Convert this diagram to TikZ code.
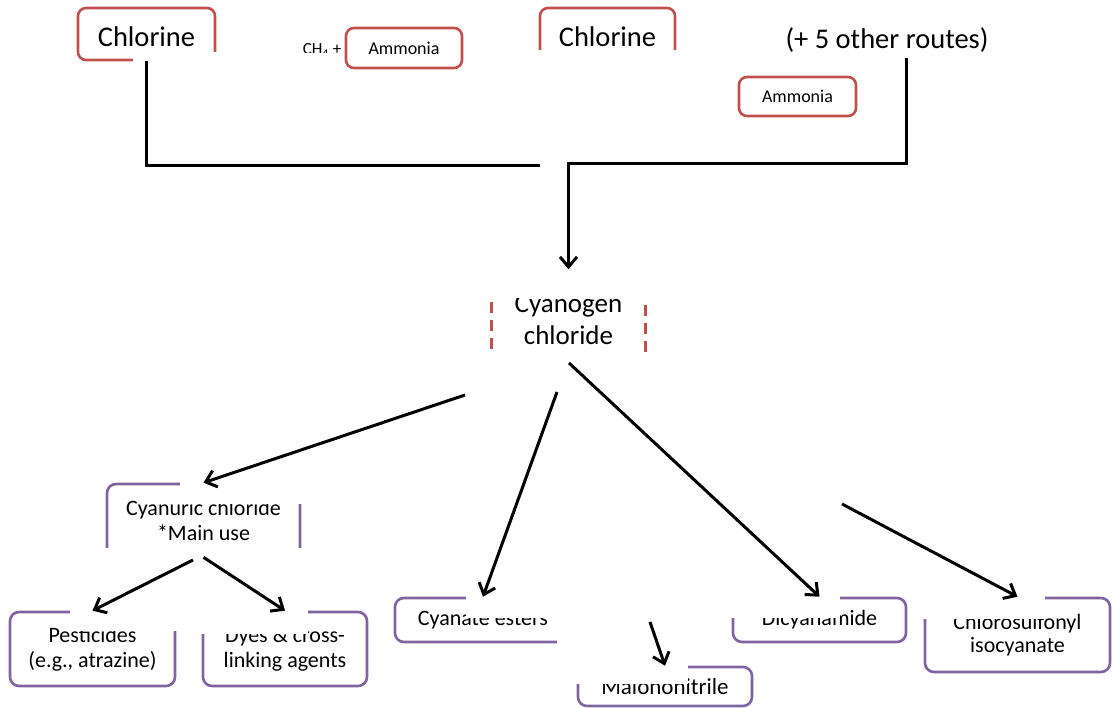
\documentclass[tikz,border=0pt]{standalone}
\usepackage{fontspec}
\setmainfont{Carlito}
\usetikzlibrary{arrows.meta}
\definecolor{boxred}{HTML}{C0504D}
\definecolor{boxpurple}{HTML}{8064A2}
% lower a label a little inside its frame
\newcommand{\lowered}[1]{\raisebox{-3pt}[\height][0pt]{#1}}
\begin{document}
\begin{tikzpicture}[x=1pt,y=-1pt,
  redbox/.style={draw=boxred, line width=2.6pt, rounded corners=8pt, inner sep=0pt, align=center},
  purplebox/.style={draw=boxpurple, line width=2.6pt, rounded corners=9pt, inner sep=0pt, align=center,
    font=\fontsize{22}{25}\selectfont},
  big/.style={font=\fontsize{28.5}{32}\selectfont},
  small/.style={font=\fontsize{18}{20}\selectfont},
  link/.style={draw=black, line width=3pt},
  flow/.style={link, -{Straight Barb[length=10pt,width=17pt,line width=3pt]}},
  mask/.style={fill=white, draw=none}]
\useasboundingbox (0,0) rectangle (1112,708);

% starting materials
\node[redbox, big, minimum width=137pt, minimum height=52pt] (cl1) at (146.5,34) {\lowered{Chlorine}};
\node[font=\fontsize{17}{19}\selectfont, inner sep=0pt] (ch4) at (322,50.5) {CH\textsubscript{4} +};
\node[redbox, small, minimum width=116pt, minimum height=40pt] (am1) at (404,48) {Ammonia};
\node[redbox, big, minimum width=135pt, minimum height=52pt] (cl2) at (607.5,34) {\lowered{Chlorine}};
\node[big, inner sep=0pt] (routes) at (887,40) {(+ 5 other routes)};
\node[redbox, small, minimum width=117pt, minimum height=39pt] (am2) at (797.5,96.5) {Ammonia};

% intermediate
\node[redbox, dashed, dash pattern=on 11pt off 7pt, rounded corners=0pt,
  font=\fontsize{27}{32}\selectfont, minimum width=154pt, minimum height=82pt] (cyan) at (568.5,319.5)
  {Cyanogen\\chloride};

% products
\node[purplebox, minimum width=193pt, minimum height=72pt] (cyanuric) at (203.5,520) {Cyanuric chloride\\*Main use};
\node[purplebox, minimum width=165pt, minimum height=74pt] (pest) at (92.5,649) {Pesticides\\(e.g., atrazine)};
\node[purplebox, minimum width=164pt, minimum height=74pt] (dyes) at (285,649) {Dyes \& cross-\\linking agents};
\node[purplebox, minimum width=176pt, minimum height=44pt] (cyanate) at (483,620) {Cyanate esters};
\node[purplebox, minimum width=174pt, minimum height=39pt, font=\fontsize{23}{25}\selectfont] (malo) at (665,686.5) {Malononitrile};
\node[purplebox, minimum width=173pt, minimum height=44pt] (dicy) at (819.5,620) {Dicyanamide};
\node[purplebox, minimum width=185pt, minimum height=74pt, font=\fontsize{22}{23.5}\selectfont] (chloro) at (1017.5,635)
  {Chlorosulfonyl\\isocyanate};

% white text frames lying over the boxes
\fill[mask] (133,52) rectangle (222,66);
\fill[mask] (288,53.5) rectangle (343,66);
\fill[mask] (533,50) rectangle (682,68);
\fill[mask] (478,272) rectangle (660,298);
\fill[mask] (478,352) rectangle (660,366);
\fill[mask] (180,476) rectangle (306,504);
\fill[mask] (98,548) rectangle (306,568);
\fill[mask] (70,603) rectangle (182,631);
\fill[mask] (195,603) rectangle (308,634);
\fill[mask] (466,590) rectangle (560,618);
\fill[mask] (557,590) rectangle (592,652);
\fill[mask] (570,658) rectangle (688,684);
\fill[mask] (725,590) rectangle (840,618);
\fill[mask] (917,590) rectangle (1045,619);

% connectors
\coordinate (join) at (540,166);
\coordinate (rt) at (906,58);
\coordinate (bend) at (906,164);
\draw[link] (cl1.south) |- (join);
\draw[flow, shorten >=8pt] (rt) -- (bend) -| (cyan.north);

\coordinate (s1) at (465,395);
\coordinate (s2) at (557,392);
\coordinate (s3) at (569,363);
\coordinate (s4) at (842,504);
\coordinate (s5) at (650,622);
\coordinate (s6) at (193,560);
\draw[flow] (s1) -- (cyanuric.north);
\draw[flow] (s2) -- (cyanate.north);
\draw[flow] (s3) -- (dicy.north);
\draw[flow] (s4) -- (chloro.north);
\draw[flow] (s5) -- (malo.north);
\draw[flow] (s6) -- (pest.north);
\draw[flow] (cyanuric.south) -- (dyes.north);
\end{tikzpicture}
\end{document}
